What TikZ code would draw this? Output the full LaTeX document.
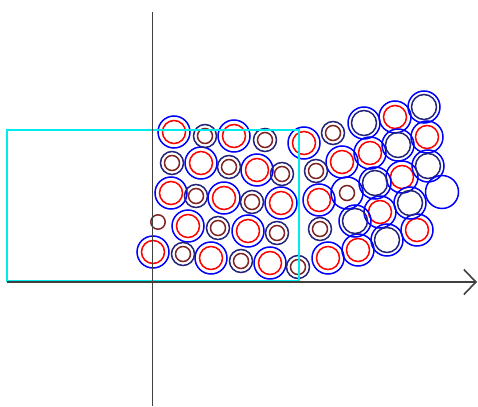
\documentclass[tikz,border=0pt]{standalone}
\usetikzlibrary{arrows.meta}
\definecolor{ringnavy}{RGB}{35,35,125}
\definecolor{coremaroon}{RGB}{125,35,35}
\definecolor{boxcyan}{RGB}{0,235,235}
\tikzset{
  bluering/.style={draw=blue, line width=1.5pt},
  redcore/.style={draw=red, line width=1.5pt},
  navyring/.style={draw=ringnavy, line width=1.5pt},
  marooncore/.style={draw=coremaroon, line width=1.5pt},
  boxline/.style={boxcyan, line width=1.4pt},
  axisline/.style={black!75, line width=1.6pt}
}

\begin{document}
\begin{tikzpicture}[x=1pt, y=-1pt]
  \useasboundingbox (0,0) rectangle (478,406);
  % big blue rings with a red core
  \foreach \cx/\cy in {174/132, 234/136, 304/143, 395/117, 201/163, 257/170, 342/162,
      370/153, 427/137, 171/193, 224/198, 281/203, 319/200, 402/177, 188/226, 248/231,
      380/212, 417/230, 153/252, 211/258, 270/263, 328/258, 358/250}
    {\draw[bluering] (\cx,\cy) circle[radius=16pt];
     \draw[redcore]  (\cx,\cy) circle[radius=11.5pt];}
  % small navy rings with a maroon core
  \foreach \cx/\cy in {205/136, 265/140, 333/133, 172/163, 229/167, 282/174, 316/171,
      196/196, 252/202, 218/228, 277/233, 320/229, 183/254, 241/261, 298/267}
    {\draw[navyring]   (\cx,\cy) circle[radius=11.5pt];
     \draw[marooncore] (\cx,\cy) circle[radius=7.5pt];}
  % big blue rings with a navy core
  \foreach \cx/\cy in {364/123, 424/107, 398/145, 375/183, 428/166, 355/221, 410/203, 387/240}
    {\draw[bluering] (\cx,\cy) circle[radius=16pt];
     \draw[navyring] (\cx,\cy) circle[radius=12.5pt];}
  \draw[bluering]   (347,193) circle[radius=16pt];
  \draw[marooncore] (347,193) circle[radius=7.5pt];
  \draw[marooncore] (158,222) circle[radius=7.2pt];
  \draw[bluering]   (442,192) circle[radius=16.5pt];

  % cyan box
  \draw[boxline] (7,130) rectangle (299,281);

  % axes
  \coordinate (xstart) at (7,282);
  \coordinate (xend)   at (477,282);
  \coordinate (ytop)   at (152.5,12);
  \coordinate (ybot)   at (152.5,406);
  \draw[axisline] (ytop) -- (ybot);
  \draw[axisline, -{Straight Barb[length=12pt, width=25pt]}] (xstart) -- (xend);
\end{tikzpicture}
\end{document}
